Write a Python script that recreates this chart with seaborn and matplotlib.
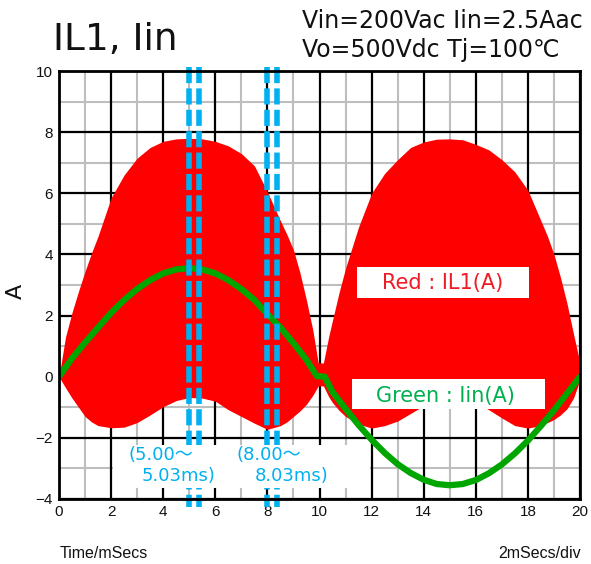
import numpy as np
import pandas as pd
import matplotlib
matplotlib.use("Agg")
import matplotlib.pyplot as plt
from matplotlib.patches import Rectangle
import seaborn as sns

# ---------------- data ----------------
t_red = [0.0, 0.25, 0.5, 0.75, 1.0, 1.25, 1.5, 2.0, 2.5, 3.0, 3.5, 4.0, 4.5, 5.0, 5.5,
         6.0, 6.5, 7.0, 7.5, 8.0, 8.5, 8.75, 9.0, 9.25, 9.5, 9.75, 9.95, 10.0, 10.15,
         10.35, 10.5, 10.75, 11.0, 11.5, 12.0, 12.5, 13.0, 13.5, 14.0, 14.5, 15.0,
         15.5, 16.0, 16.5, 17.0, 17.5, 18.0, 18.5, 18.75, 19.0, 19.25, 19.5, 19.75, 20.0]
il1_upper = [0.0, 1.3, 2.1, 2.8, 3.45, 4.05, 4.6, 5.85, 6.6, 7.15, 7.5, 7.7, 7.78, 7.8, 7.78,
             7.7, 7.55, 7.3, 6.9, 6.05, 5.1, 4.65, 4.15, 3.4, 2.5, 1.5, 0.45, 0.45, 0.45,
             1.3, 1.85, 2.75, 3.55, 4.9, 6.0, 6.65, 7.1, 7.5, 7.68, 7.77, 7.78,
             7.75, 7.6, 7.42, 7.1, 6.7, 6.1, 5.1, 4.6, 4.0, 3.25, 2.4, 1.4, 0.45]
il1_lower = [0.0, -0.36, -0.7, -1.0, -1.3, -1.48, -1.6, -1.67, -1.65, -1.5, -1.25, -0.98, -0.78, -0.68, -0.7,
             -0.8, -1.08, -1.3, -1.52, -1.72, -1.6, -1.48, -1.3, -1.12, -0.9, -0.6, -0.3, -0.3, -0.3,
             -0.65, -0.85, -1.1, -1.3, -1.55, -1.68, -1.6, -1.45, -1.2, -0.95, -0.78, -0.7,
             -0.72, -0.85, -1.08, -1.35, -1.6, -1.68, -1.6, -1.5, -1.4, -1.25, -1.05, -0.7, -0.1]

t_iin = [0.0, 0.5, 1.0, 1.5, 2.0, 2.5, 3.0, 3.5, 4.0, 4.5, 5.0, 5.5, 6.0, 6.5, 7.0,
         7.5, 8.0, 8.5, 9.0, 9.5, 9.9, 10.2, 10.5, 11.0, 11.5, 12.0, 12.5, 13.0,
         13.5, 14.0, 14.5, 15.0, 15.5, 16.0, 16.5, 17.0, 17.5, 18.0, 18.5, 19.0,
         19.5, 20.0]
iin = [0.0, 0.6, 1.12, 1.61, 2.09, 2.51, 2.87, 3.16, 3.38, 3.51, 3.55, 3.51, 3.38, 3.16, 2.87,
       2.51, 2.05, 1.61, 1.1, 0.55, 0.02, 0.0, -0.5, -1.05, -1.58, -2.06, -2.49, -2.86,
       -3.15, -3.37, -3.51, -3.55, -3.51, -3.38, -3.16, -2.87, -2.51, -2.09, -1.61, -1.1,
       -0.55, 0.0]

marker_times = [4.99, 5.39, 8.0, 8.35]
x_ticks = [0, 2, 4, 6, 8, 10, 12, 14, 16, 18, 20]
y_ticks = [-4, -2, 0, 2, 4, 6, 8, 10]

# ---------------- styling ----------------
sns.set_style("white")
plt.rcParams["font.family"] = ["DejaVu Sans", "Noto Sans CJK JP"]

RED = "#FF0000"
GREEN = "#00A600"
BLUE = "#00B0F0"
CJK = ["DejaVu Sans", "Noto Sans CJK JP"]

W, H = 591, 564
fig = plt.figure(figsize=(W / 100, H / 100), dpi=100)
L, R, T, B = 59, 580, 71, 499
ax = fig.add_axes([L / W, 1 - B / H, (R - L) / W, (B - T) / H])

ax.set_xlim(0, 20)
ax.set_ylim(-4, 10)
ax.set_xticks(x_ticks)
ax.set_yticks(y_ticks)
ax.set_xticks(np.arange(1, 20, 2), minor=True)
ax.set_yticks(np.arange(-3, 10, 2), minor=True)
ax.set_axisbelow(True)
ax.grid(which="minor", color="#BEBEBE", lw=1.5)
ax.grid(which="major", visible=False)
for xv in x_ticks:
    ax.axvline(xv, color="black", lw=1.6, zorder=0.8)
for yv in y_ticks:
    ax.axhline(yv, color="black", lw=1.6, zorder=0.8)

ax.tick_params(which="major", direction="out", length=3, width=1.6, color="black",
               pad=1.5, labelsize=11, labelcolor="#111111")
ax.tick_params(which="minor", length=0)
for lab in ax.get_xticklabels() + ax.get_yticklabels():
    lab.set_fontfamily("Liberation Sans")
for s in ax.spines.values():
    s.set_color("black")
    s.set_linewidth(2)
    s.set_zorder(8)

# red IL1 band
ax.fill_between(t_red, il1_lower, il1_upper, color=RED, lw=0, zorder=2)

# green Iin
df_iin = pd.DataFrame({"t": t_iin, "iin": iin})
sns.lineplot(data=df_iin, x="t", y="iin", ax=ax, color=GREEN, lw=4.5, sort=False,
             zorder=3, solid_joinstyle="round", solid_capstyle="round")
ax.set_xlabel("")
ax.set_ylabel("")

# blue dashed markers
for mt in marker_times:
    ax.plot([mt, mt], [10.13, -4.27], color=BLUE, lw=4, linestyle=(0, (2.9, 0.95)),
            zorder=4, clip_on=False)

# annotation white box and text
ax.add_patch(Rectangle((2.07, -3.63), 9.87, 1.41, facecolor="white", edgecolor="none", zorder=6))
ann_kw = dict(color=BLUE, fontsize=13, family=CJK, va="center", ha="left", zorder=7)
ax.text(2.65, -2.55, "(5.00～", **ann_kw)
ax.text(3.17, -3.24, "5.03ms)", **ann_kw)
ax.text(6.82, -2.55, "(8.00～", **ann_kw)
ax.text(7.52, -3.24, "8.03ms)", **ann_kw)

# legend-like label boxes
ax.add_patch(Rectangle((11.43, 2.59), 6.61, 0.985, facecolor="white", edgecolor="none", zorder=6))
ax.text(14.72, 3.07, "Red : IL1(A)", color="#EE1C25", fontsize=15, ha="center", va="center", zorder=7)
ax.add_patch(Rectangle((11.24, -1.057), 7.42, 0.99, facecolor="white", edgecolor="none", zorder=6))
ax.text(14.82, -0.62, "Green : Iin(A)", color="#00B050", fontsize=15, ha="center", va="center", zorder=7)

# figure texts
fig.text(53 / W, 1 - 50 / H, "IL1, Iin", fontsize=27, color="#111111", va="baseline", ha="left")
fig.text(302 / W, 1 - 28 / H, "Vin=200Vac Iin=2.5Aac", fontsize=17, color="#111111",
         va="baseline", ha="left", family=CJK)
fig.text(302 / W, 1 - 57 / H, "Vo=500Vdc Tj=100℃", fontsize=17, color="#111111",
         va="baseline", ha="left", family=CJK)
fig.text(16 / W, 1 - 291 / H, "A", fontsize=16, color="#111111", va="center", ha="center",
         rotation=90)
fig.text(60 / W, 1 - 553 / H, "Time/mSecs", fontsize=11.5, family="Liberation Sans",
         color="#111111", va="center", ha="left")
fig.text(581 / W, 1 - 553 / H, "2mSecs/div", fontsize=11.5, family="Liberation Sans",
         color="#111111", va="center", ha="right")

fig.savefig("out.png", dpi=100, facecolor="white")
